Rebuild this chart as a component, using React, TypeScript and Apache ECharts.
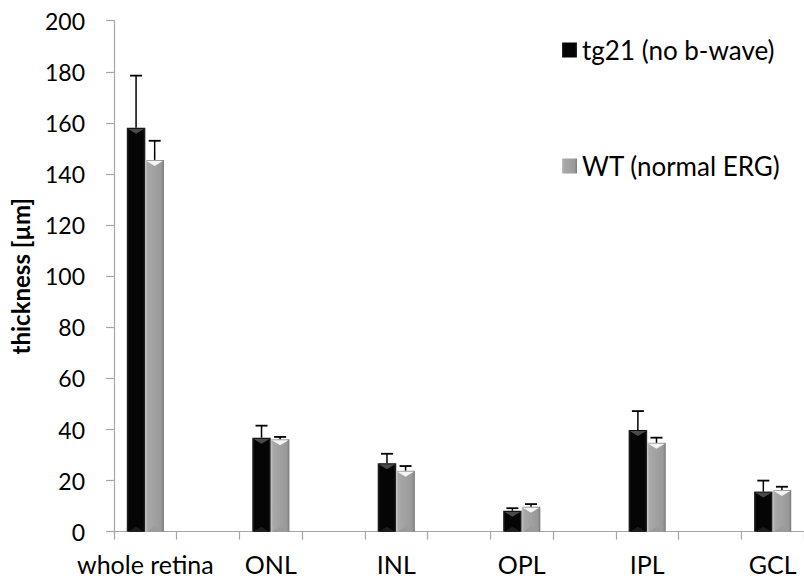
import React, { useEffect, useRef } from "react";
import * as echarts from "echarts";

const categories = ["whole retina", "ONL", "INL", "OPL", "IPL", "GCL"];
const tg21 = [158.1, 36.8, 26.8, 8.2, 39.8, 15.7];
const tg21Err = [20.4, 4.7, 3.7, 1.0, 7.4, 4.3];
const wt = [145.5, 36.2, 23.9, 9.8, 34.8, 16.3];
const wtErr = [7.5, 0.9, 1.8, 1.0, 2.0, 1.3];
const seriesNames = ["tg21 (no b-wave)", "WT (normal ERG)"];
const yTicks = { min: 0, max: 200, interval: 20 };

const FONT = "Lato, 'Open Sans', sans-serif";
const BAR_W = 18.6;

export default function App() {
  const ref = useRef<HTMLDivElement>(null);
  useEffect(() => {
    document.body.style.margin = "0";
    const chart = echarts.init(ref.current!, null, { renderer: "svg" });

    // interleave spacer categories (Excel-style empty columns)
    const axisData: string[] = [];
    const idxOf: number[] = [];
    categories.forEach((c, i) => {
      idxOf.push(axisData.length);
      axisData.push(c);
      if (i < categories.length - 1) axisData.push("_gap" + i);
    });
    const toAxis = (vals: number[]) => {
      const arr: (number | string)[] = axisData.map(() => "-");
      vals.forEach((v, i) => (arr[idxOf[i]] = v));
      return arr;
    };
    const decoData = (vals: number[], errs: number[]) =>
      vals.map((v, i) => [idxOf[i], v, errs[i]]);

    const makeDeco = (name: string, vals: number[], errs: number[], offset: number, dark: boolean) => ({
      type: "custom",
      name: name + "_deco",
      z: 5,
      silent: true,
      data: decoData(vals, errs),
      encode: { x: 0, y: 1 },
      renderItem: (params: any, api: any) => {
        const xi = api.value(0);
        const v = api.value(1);
        const e = api.value(2);
        const top = api.coord([xi, v]);
        const base = api.coord([xi, 0]);
        const errTop = api.coord([xi, v + e]);
        const cx = top[0] + offset;
        const l = cx - BAR_W / 2;
        const r = cx + BAR_W / 2;
        const triH = 6;
        return {
          type: "group",
          children: [
            {
              type: "polygon",
              shape: { points: [[l + 1, top[1] + 1], [r - 1, top[1] + 1], [cx, top[1] + triH]] },
              style: { fill: dark ? "#4a4a4a" : "#f4f4f4" },
            },
            {
              type: "polygon",
              shape: { points: [[l + 1, base[1]], [r - 1, base[1]], [cx, base[1] - 5]] },
              style: { fill: dark ? "#1c1c1c" : "#9a9a9a" },
            },
            {
              type: "line",
              shape: { x1: cx, y1: top[1], x2: cx, y2: errTop[1] },
              style: { stroke: "#000", lineWidth: 1.5 },
            },
            {
              type: "line",
              shape: { x1: cx - 6, y1: errTop[1], x2: cx + 6, y2: errTop[1] },
              style: { stroke: "#000", lineWidth: 1.8 },
            },
          ],
        };
      },
    });

    const blackGrad = new echarts.graphic.LinearGradient(0, 0, 1, 0, [
      { offset: 0, color: "#2e2e2e" },
      { offset: 0.12, color: "#050505" },
      { offset: 0.88, color: "#050505" },
      { offset: 1, color: "#2e2e2e" },
    ]);
    const grayGrad = new echarts.graphic.LinearGradient(0, 0, 1, 0, [
      { offset: 0, color: "#c4c4c4" },
      { offset: 0.12, color: "#a9a9a9" },
      { offset: 0.85, color: "#999999" },
      { offset: 1, color: "#7a7a7a" },
    ]);

    chart.setOption({
      animation: false,
      textStyle: { fontFamily: FONT },
      grid: { left: 113.3, right: -10, top: 20.7, bottom: 47.3, containLabel: false },
      legend: {
        orient: "vertical",
        left: 557,
        top: 32,
        itemGap: 90,
        itemWidth: 15,
        itemHeight: 15,
        icon: "rect",
        data: seriesNames,
        textStyle: { fontSize: 26, color: "#000", fontFamily: FONT },
      },
      xAxis: {
        type: "category",
        data: axisData,
        axisLine: { lineStyle: { color: "#a6a6a6", width: 1.2 } },
        axisTick: { show: true, interval: 0, length: 8, lineStyle: { color: "#a6a6a6", width: 1.2 } },
        axisLabel: {
          interval: 0,
          margin: 20,
          fontSize: 25,
          color: "#000",
          fontFamily: FONT,
          formatter: (s: string) => (s.startsWith("_gap") ? "" : s),
        },
        splitLine: { show: false },
      },
      yAxis: {
        type: "value",
        min: yTicks.min,
        max: yTicks.max,
        interval: yTicks.interval,
        name: "thickness [µm]",
        nameLocation: "middle",
        nameGap: 82,
        nameTextStyle: { fontSize: 24, fontWeight: "bold", color: "#000", fontFamily: FONT },
        axisLine: { show: true, lineStyle: { color: "#a6a6a6", width: 1.2 } },
        axisTick: { show: true, length: 8, lineStyle: { color: "#a6a6a6", width: 1.2 } },
        axisLabel: { margin: 29, fontSize: 23, color: "#000", fontFamily: FONT },
        splitLine: { show: false },
      },
      series: [
        {
          type: "bar",
          name: seriesNames[0],
          data: toAxis(tg21),
          barWidth: BAR_W,
          barGap: "0%",
          itemStyle: { color: blackGrad },
        },
        {
          type: "bar",
          name: seriesNames[1],
          data: toAxis(wt),
          barWidth: BAR_W,
          barGap: "0%",
          itemStyle: { color: grayGrad },
        },
        makeDeco(seriesNames[0], tg21, tg21Err, -BAR_W / 2, true),
        makeDeco(seriesNames[1], wt, wtErr, BAR_W / 2, false),
      ],
    });
    return () => chart.dispose();
  }, []);
  return <div ref={ref} style={{ width: 804, height: 579 }} />;
}
